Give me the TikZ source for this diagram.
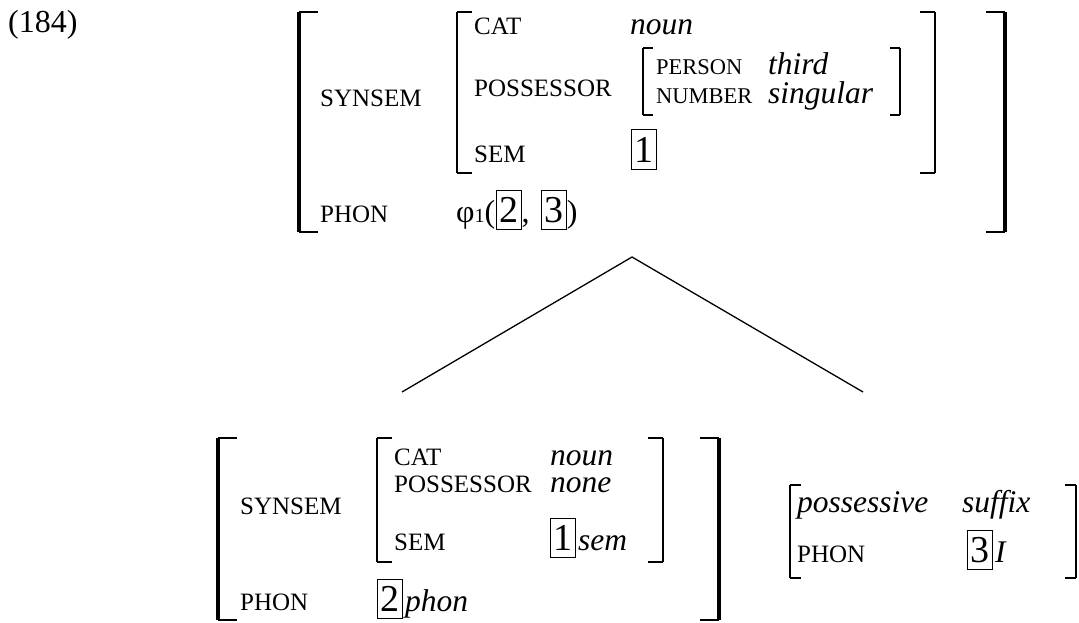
\documentclass[tikz,border=0pt]{standalone}
\usepackage{fontspec}
\setmainfont{Liberation Serif}
\tikzset{
  lbl/.style={anchor=base west, inner sep=0pt, font=\fontsize{25}{25}\selectfont},
  slbl/.style={anchor=base west, inner sep=0pt, font=\fontsize{22.5}{22.5}\selectfont},
  val/.style={anchor=base west, inner sep=0pt, font=\fontsize{31.5}{31.5}\selectfont\itshape},
  xval/.style={val, text height=15pt, text depth=0pt},
  num/.style={anchor=base west, inner sep=0pt, font=\fontsize{32}{32}\selectfont},
  tagb/.style={anchor=base west, draw, line width=1pt, inner xsep=3pt, inner ysep=3.5pt,
    text height=28.5pt, text depth=4pt, font=\fontsize{38}{38}\selectfont},
  bigbr/.style={line width=4pt},
  brser/.style={line width=2pt},
  midbr/.style={line width=2.2pt},
  smallbr/.style={line width=1.5pt},
  thinser/.style={line width=1.5pt},
  branch/.style={line width=1.3pt}
}
% brackets: x, ytop, ybot, serif length, vertical style, serif style
\newcommand\LBr[6]{\draw[#5] (#1,#2) -- (#1,#3);
  \draw[#6] (#1,#2) -- ++(#4,0); \draw[#6] (#1,#3) -- ++(#4,0);}
\newcommand\RBr[6]{\draw[#5] (#1,#2) -- (#1,#3);
  \draw[#6] (#1,#2) -- ++(-#4,0); \draw[#6] (#1,#3) -- ++(-#4,0);}
\begin{document}
\begin{tikzpicture}[x=1pt,y=-1pt]
\useasboundingbox (0,0) rectangle (1079,623);
\node[num] (ex) at (8,33) {(184)};

% ---------- top AVM ----------
\LBr{299}{12}{232}{19}{bigbr}{brser}
\RBr{1005}{12}{232}{19}{bigbr}{brser}
\node[lbl] (tsyn) at (320,107) {SYNSEM};
\node[lbl] (tphon) at (320,222) {PHON};
\LBr{457}{12}{173}{15}{midbr}{brser}
\RBr{935}{12}{173}{15}{midbr}{brser}
\node[lbl] (tcat) at (474,35) {CAT};
\node[val] (tnoun) at (630,35) {noun};
\node[lbl] (tposs) at (474,97) {POSSESSOR};
\LBr{643}{48}{115}{10}{smallbr}{thinser}
\RBr{900}{48}{115}{10}{smallbr}{thinser}
\node[slbl] (tpers) at (656,75) {PERSON};
\node[val] (tthird) at (768,75) {third};
\node[slbl] (tnumb) at (656,104) {NUMBER};
\node[val] (tsing) at (768,104) {singular};
\node[lbl] (tsem) at (474,162) {SEM};
\node[tagb] (tt1) at (631,162) {1};
\node[num] (tphi) at (456,222) {φ{\fontsize{20}{20}\selectfont 1}(};
\node[tagb] (tt2) at (tphi.base east) {2};
\node[num] (tcomma) at (tt2.base east) {,\,\,};
\node[tagb] (tt3) at (tcomma.base east) {3};
\node[num] (tclose) at (tt3.base east) {)};

% ---------- tree ----------
\coordinate (apex) at (632,257);
\coordinate (lleg) at (402,392);
\coordinate (rleg) at (863,392);
\draw[branch] (lleg) -- (apex) -- (rleg);

% ---------- bottom left AVM ----------
\LBr{218}{438}{620}{19}{bigbr}{brser}
\RBr{719}{438}{620}{19}{bigbr}{brser}
\node[lbl] (bsyn) at (240,514) {SYNSEM};
\node[lbl] (bphon) at (240,610) {PHON};
\LBr{377}{438}{562}{15}{midbr}{brser}
\RBr{663}{438}{562}{15}{midbr}{brser}
\node[lbl] (bcat) at (394,465) {CAT};
\node[xval] (bnoun) at (550,465) {noun};
\node[lbl] (bposs) at (394,492) {POSSESSOR};
\node[xval] (bnone) at (550,492) {none};
\node[lbl] (bsem) at (394,550) {SEM};
\node[tagb] (bt1) at (550,550) {1};
\node[val, xshift=2pt] (bsemv) at (bt1.base east) {sem};
\node[tagb] (bt2) at (377,611) {2};
\node[val, xshift=2pt] (bphonv) at (bt2.base east) {phon};

% ---------- bottom right AVM ----------
\LBr{790}{485}{578}{11}{smallbr}{thinser}
\RBr{1076}{485}{578}{11}{smallbr}{thinser}
\node[val] (rposs) at (797,512) {possessive};
\node[val] (rsuf) at (962,512) {suffix};
\node[lbl] (rphon) at (797,562) {PHON};
\node[tagb] (rt3) at (967,562) {3};
\node[val, xshift=2pt] (ri) at (rt3.base east) {I};
\end{tikzpicture}
\end{document}
